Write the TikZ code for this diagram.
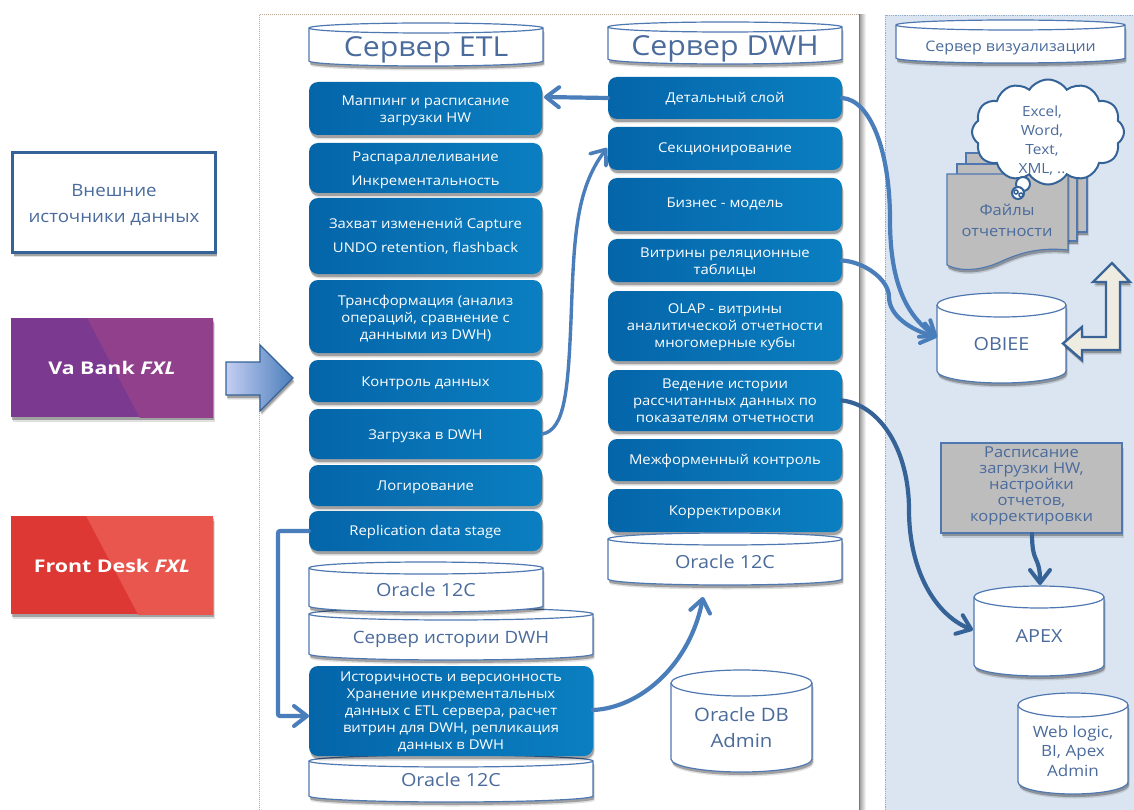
\documentclass[tikz,border=0pt]{standalone}
\usepackage{fontspec}
\setmainfont[FakeStretch=1.1]{Open Sans}
\newfontfamily\brandfont[FakeStretch=1.22]{Open Sans}
\usetikzlibrary{arrows.meta,shadows,shapes.symbols,calc}
\definecolor{cyltext}{HTML}{4A6B9C}
\definecolor{cylline}{HTML}{4F78B0}
\definecolor{boxA}{HTML}{0565A9}
\definecolor{boxB}{HTML}{0A7FC1}
\definecolor{conn}{HTML}{4A7EBB}
\definecolor{dark}{HTML}{356397}
\definecolor{panel}{HTML}{DBE5F1}
\definecolor{purpA}{HTML}{7B3A8F}
\definecolor{purpB}{HTML}{91418C}
\definecolor{redA}{HTML}{DE3835}
\definecolor{redB}{HTML}{E9564E}
\definecolor{creamline}{HTML}{3B6496}
\definecolor{cream}{HTML}{EEECE1}
\definecolor{frameline}{HTML}{BDA795}
\definecolor{sheet}{HTML}{BDBDBD}
\tikzset{
  softshadow/.style={drop shadow={shadow xshift=1.5pt,shadow yshift=-4.5pt,opacity=.12,fill=black},drop shadow={shadow xshift=1pt,shadow yshift=-3pt,opacity=.28,fill=black}},
  bluebox/.style={rounded corners=9pt,left color=boxA,right color=boxB,draw=none,inner sep=0pt,softshadow},
  boxtext/.style={text=white,align=center,inner sep=0pt,font=\fontsize{13.5}{17.2}\selectfont},
  cylbody/.style={draw=cylline,line width=1.2pt,fill=white},
  cyllabel/.style={text=cyltext,align=center,inner sep=0pt},
  flow/.style={draw=conn,line width=4.2pt,-{Straight Barb[length=13pt,width=20pt,line width=4pt,round]},line cap=round,line join=round},
  flowthin/.style={draw=conn,line width=3.4pt,-{Straight Barb[length=13pt,width=20pt,line width=3.6pt,round]},line cap=round,line join=round},
  flowdark/.style={draw=dark,line width=4.2pt,-{Straight Barb[length=13pt,width=20pt,line width=4pt,round]},line cap=round,line join=round},
  brandtext/.style={text=white,font=\fontsize{17.5}{20}\brandfont\bfseries,inner sep=0pt},
}
% name, x1, y1, x2, y2, ry, font size, label offset, text
\newcommand{\cylshape}[9]{%
  \pgfmathsetmacro{\rx}{(#4-#2)/2}%
  \pgfmathsetmacro{\cx}{(#4+#2)/2}%
  \pgfmathsetmacro{\cy}{(#3+#5)/2}%
  \pgfmathsetmacro{\wid}{#4-#2}%
  \pgfmathsetmacro{\hei}{#5-#3}%
  \pgfmathsetmacro{\lead}{#7*1.27}%
  \path[cylbody,softshadow] (#2,#3+#6) -- (#2,#5-#6) arc[start angle=180,end angle=360,x radius=\rx pt,y radius=#6 pt] -- (#4,#3+#6) arc[start angle=0,end angle=180,x radius=\rx pt,y radius=#6 pt] -- cycle;
  \draw[cylline,line width=1.2pt] (#2,#3+#6) arc[start angle=180,end angle=360,x radius=\rx pt,y radius=#6 pt];
  \node[cyllabel,minimum width=\wid pt,minimum height=\hei pt,font=\fontsize{#7}{\lead}\selectfont] (#1) at (\cx,\cy+#8) {#9};
}
% name, x1, y1, x2, y2, text, text offset
\newcommand{\bbox}[7]{%
  \pgfmathsetmacro{\cx}{(#2+#4)/2}%
  \pgfmathsetmacro{\cy}{(#3+#5)/2}%
  \pgfmathsetmacro{\wid}{#4-#2}%
  \pgfmathsetmacro{\hei}{#5-#3}%
  \node[bluebox,minimum width=\wid pt,minimum height=\hei pt] (#1) at (\cx,\cy) {};
  \node[boxtext] (#1t) at (\cx,\cy+#7) {#6};
}
\begin{document}
\begin{tikzpicture}[x=1pt,y=-1pt]
\useasboundingbox (0,0) rectangle (1134,810);
\fill[white] (0,0) rectangle (1134,810);
% panels
\shade[left color=black!35,right color=white] (860,15) rectangle (866,810);
\draw[draw=frameline,densely dotted,line width=1pt] (259,810) -- (259,14.5) -- (859.5,14.5);
\draw[draw=frameline!70!black,line width=1pt] (859.5,14.5) -- (859.5,810);
\fill[panel] (885,15) rectangle (1134,810);
\draw[cylline!60,densely dotted,line width=.8pt] (885,810) -- (885,15) -- (1134,15);
% headers
\cylshape{hetl}{309}{23}{543}{66}{5}{27.5}{5.5}{Сервер ETL}
\cylshape{hdwh}{608}{22}{842}{64}{5}{27.5}{5.5}{Сервер DWH}
\cylshape{hvis}{896}{20}{1125}{63}{5}{14.5}{6.5}{Сервер визуализации}
% left sources
\node[draw=dark,line width=2.6pt,fill=white,minimum width=203pt,minimum height=100pt,inner sep=0pt,softshadow] (ext) at (114,202.5) {};
\node[text=cyltext,align=center,inner sep=0pt,font=\fontsize{17}{26}\selectfont] (extt) at (114,205) {Внешние\\источники данных};
\path[fill=purpA,softshadow] (11,318) rectangle (213,417);
\begin{scope}
\clip (11,318) rectangle (213,417);
\fill[purpB] (83,310) -- (220,310) -- (220,420) -- (141,420) -- cycle;
\end{scope}
\node[brandtext] (va) at (112,368) {Va Bank \textit{FXL}};
\path[fill=redA,softshadow] (11,516) rectangle (213,614);
\begin{scope}
\clip (11,516) rectangle (213,614);
\fill[redB] (83,510) -- (220,510) -- (220,620) -- (141,620) -- cycle;
\end{scope}
\node[brandtext] (fd) at (112,566) {Front Desk \textit{FXL}};
% big arrow
\path[draw=dark,line width=1.2pt,left color=blue!10!panel,right color=conn,softshadow] (226,362) -- (260,362) -- (260,345) -- (293,378) -- (260,411) -- (260,395) -- (226,395) -- cycle;
% ETL
\bbox{map}{309}{82}{542}{135}{Маппинг и расписание\\загрузки HW}{2.5}
\bbox{par}{309}{143}{542}{193}{Распараллеливание\\[6.5pt]Инкрементальность}{2.5}
\bbox{cap}{309}{198}{542}{274}{Захват изменений Capture\\[6.5pt]UNDO retention, flashback}{0}
\bbox{tra}{309}{280}{542}{353}{Трансформация (анализ\\операций, сравнение с\\данными из DWH)}{2}
\bbox{ctl}{309}{360}{542}{402}{Контроль данных}{2}
\bbox{loa}{309}{409}{542}{459}{Загрузка в DWH}{2.5}
\bbox{log}{309}{465}{542}{506}{Логирование}{1.5}
\bbox{rep}{309}{511}{542}{551}{Replication data stage}{0.5}
\cylshape{hist}{309}{608}{593}{660}{6}{17}{5.2}{Сервер истории DWH}
\cylshape{ora1}{309}{562}{543}{612}{6}{18}{3.2}{Oracle 12C}
\cylshape{ora2}{309}{755}{593}{802}{6}{18}{1.2}{Oracle 12C}
\bbox{hb}{309}{666}{593}{756}{Историчность и версионность\\Хранение инкрементальных\\данных с ETL сервера, расчет\\витрин для DWH, репликация\\данных в DWH}{1}
% DWH
\bbox{det}{608}{77}{842}{119}{Детальный слой}{1}
\bbox{sec}{608}{127}{842}{170}{Секционирование}{1}
\bbox{biz}{608}{178}{842}{231}{Бизнес - модель}{-1}
\bbox{vit}{608}{239}{842}{282}{Витрины реляционные\\таблицы}{2}
\bbox{ola}{608}{291}{842}{361}{OLAP - витрины\\аналитической отчетности\\многомерные кубы}{1}
\bbox{ved}{608}{370}{842}{431}{Ведение истории\\рассчитанных данных по\\показателям отчетности}{0.5}
\bbox{mez}{608}{439}{842}{481}{Межформенный контроль}{1}
\bbox{kor}{608}{489}{842}{532}{Корректировки}{2}
\cylshape{ora3}{608}{533}{842}{585}{6}{18}{3.2}{Oracle 12C}
\cylshape{adm}{671}{670}{812}{772}{13}{18.5}{7}{Oracle DB\\[2.5pt]Admin}
% doc stack
\path[draw=cylline,line width=1.1pt,fill=sheet,softshadow] (966,153) -- (1087,153) -- (1087,232) -- (966,232) -- cycle;
\path[draw=cylline,line width=1.1pt,fill=sheet,softshadow] (957,164) -- (1077,164) -- (1077,241) -- (957,241) -- cycle;
\path[draw=cylline,line width=1.1pt,fill=sheet,softshadow] (947,174) -- (1068,174) -- (1068,250) .. controls (1030,246) and (1010,258) .. (995,264) .. controls (980,270) and (960,272) .. (947,265) -- cycle;
\node[cyllabel,font=\fontsize{15}{21}\selectfont] (files) at (1007,220) {Файлы\\отчетности};
% cloud
\node[cloud,cloud puffs=12,cloud puff arc=115,aspect=1.42,draw=dark,line width=2pt,fill=white,minimum width=152pt,minimum height=105pt,inner sep=0pt] (cl) at (1048,132) {};
\draw[dark,line width=2pt,fill=white] (1023,184) circle[radius=7pt];
\draw[dark,line width=2pt,fill=white] (1018,193) circle[radius=6pt];
\draw[dark,line width=1.5pt] (1016,192) circle[radius=2pt] (1021,195) circle[radius=2pt];
\node[cyllabel,font=\fontsize{14}{19}\selectfont] (cltxt) at (1042,141) {Excel,\\Word,\\Text,\\XML, ..};
% OBIEE, APEX, admin
\cylshape{obi}{937}{293}{1066}{383}{12}{18}{6}{OBIEE}
\node[draw=cylline,line width=1.2pt,fill=sheet,minimum width=181pt,minimum height=90pt,inner sep=0pt,softshadow] (gr) at (1031.5,488) {};
\node[text=cyltext,align=center,inner sep=0pt,font=\fontsize{15}{16}\selectfont] (grt) at (1031.5,486) {Расписание\\загрузки HW,\\настройки\\отчетов,\\корректировки};
\cylshape{apx}{974}{586}{1104}{676}{11}{18}{5}{APEX}
\cylshape{wl}{1018}{693}{1128}{794}{12}{15.5}{7.5}{Web logic,\\BI, Apex\\Admin}
% bent arrow
\path[draw=creamline,line width=2.4pt,fill=cream,line join=miter,softshadow] (1063,343.5) -- (1082,327) -- (1082,337) -- (1106,337) -- (1106,282) -- (1093,282) -- (1112,263) -- (1130,282) -- (1120,282) -- (1120,350) -- (1082,350) -- (1082,360) -- cycle;
% connectors
\coordinate (mapin) at (544,97);
\coordinate (grout) at (1032,534);
\coordinate (repcorner) at (278,531);
\coordinate (hbcorner) at (278,716);
\coordinate (hbin) at (309,716);
\coordinate (hbout) at (593,710);
\coordinate (orain) at (703,597);
\coordinate (apxin) at (1040,585);
\coordinate (obiin) at (937,337);
\coordinate (apxwest) at (973,630);
\coordinate (secin) at (607,148);
\draw[flow] (det.west) -- (mapin);
\draw[flowthin] (loa.east) .. controls (565,430) and (568,390) .. (571,320) .. controls (574,240) and (575,190) .. (secin);
\draw[flow] (det.east) .. controls (870,100) and (890,150) .. (890,220) .. controls (890,280) and (905,315) .. (obiin);
\draw[flow] (vit.east) .. controls (865,262) and (889,280) .. (889,297) .. controls (889,315) and (910,330) .. (obiin);
\draw[flowdark] (ved.east) .. controls (880,405) and (909,450) .. (909,510) .. controls (909,570) and (935,615) .. (apxwest);
\draw[flowdark] (grout) .. controls (1032,565) and (1040,555) .. (apxin);
\draw[flow,rounded corners=2pt] (rep.west) -- (repcorner) -- (hbcorner) -- (hbin);
\draw[flow] (hbout) .. controls (640,708) and (690,665) .. (orain);
\end{tikzpicture}
\end{document}
